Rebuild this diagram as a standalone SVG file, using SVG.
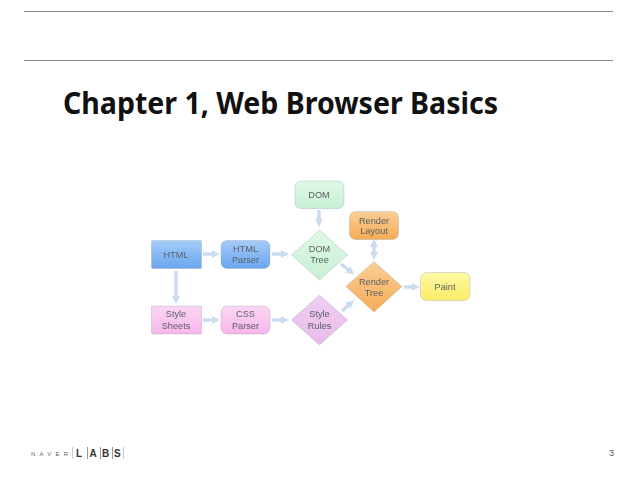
<svg xmlns="http://www.w3.org/2000/svg" width="638" height="479" viewBox="0 0 638 479">
<defs>
<linearGradient id="gb" x1="0" y1="0" x2="0" y2="1"><stop offset="0" stop-color="#a4cbf8"/><stop offset="1" stop-color="#6aa6f0"/></linearGradient>
<linearGradient id="gp" x1="0" y1="0" x2="0" y2="1"><stop offset="0" stop-color="#fcd6f4"/><stop offset="1" stop-color="#f8b6ea"/></linearGradient>
<linearGradient id="gg" x1="0" y1="0" x2="0" y2="1"><stop offset="0" stop-color="#dff8e6"/><stop offset="1" stop-color="#c8f0d4"/></linearGradient>
<linearGradient id="go" x1="0" y1="0" x2="0" y2="1"><stop offset="0" stop-color="#fbcf96"/><stop offset="1" stop-color="#f6ab55"/></linearGradient>
<linearGradient id="gy" x1="0" y1="0" x2="0" y2="1"><stop offset="0" stop-color="#fdf8a6"/><stop offset="1" stop-color="#fbec66"/></linearGradient>
<linearGradient id="gl" x1="0" y1="0" x2="0" y2="1"><stop offset="0" stop-color="#efcdf1"/><stop offset="1" stop-color="#e9bceb"/></linearGradient>
<filter id="soft" x="-10%" y="-10%" width="120%" height="120%"><feGaussianBlur stdDeviation="0.75"/></filter>
<marker id="ah" viewBox="0 0 10 10" refX="5" refY="5" markerWidth="2.300" markerHeight="2.600" orient="auto-start-reverse"><path d="M0 0 L10 5 L0 10 Z" fill="#cbdcf0"/></marker>
</defs>
<style>
.rule{stroke:#8a8a8a;stroke-width:1;fill:none}
.lbl{font-family:"Liberation Sans",Arial,sans-serif;font-size:9.2px;fill:#5a5f66;text-anchor:middle}
.c{stroke:#cbdcf0;stroke-width:3.500;fill:none;marker-end:url(#ah)}
.b{stroke:#cbdcf0;stroke-width:3.500;fill:none;marker-end:url(#ah);marker-start:url(#ah)}
.s{stroke-width:1;stroke-opacity:.3;stroke:#8899aa}
.ft{font-family:"Liberation Sans",Arial,sans-serif;fill:#333}
</style>
<line class="rule" x1="24" y1="11.5" x2="613" y2="11.5"/>
<line class="rule" x1="24" y1="60.5" x2="613" y2="60.5"/>
<text x="63" y="114" font-family="'Noto Sans','Open Sans',sans-serif" font-weight="700" font-size="31" textLength="435" lengthAdjust="spacingAndGlyphs" fill="#111">Chapter 1, Web Browser Basics</text>
<g filter="url(#soft)">
<g id="connectors">
<path class="c" d="M203 254H216"/>
<path class="c" d="M272 254H285"/>
<path class="c" d="M319 210V223"/>
<path class="c" d="M176 271V300"/>
<path class="c" d="M203 320H216"/>
<path class="c" d="M272 320H285"/>
<path class="c" d="M341 264L351 272"/>
<path class="c" d="M342 311L351 303"/>
<path class="b" d="M374 243V256"/>
<path class="c" d="M404 287H416"/>
</g>
<g id="html"><rect x="151.500" y="240.500" width="50" height="28" rx="1" fill="url(#gb)" class="s"/><text class="lbl" x="176" y="258">HTML</text></g>
<g id="html-parser"><rect x="221" y="240.500" width="49" height="28" rx="6" fill="url(#gb)" class="s"/><text class="lbl" x="245.500" y="252">HTML</text><text class="lbl" x="245.500" y="263">Parser</text></g>
<g id="dom"><rect x="295" y="181" width="49" height="27.500" rx="6" fill="url(#gg)" class="s"/><text class="lbl" x="319" y="198">DOM</text></g>
<g id="dom-tree"><path d="M319.500 230L347.500 255L319.500 280L291.500 255Z" fill="url(#gg)" class="s"/><text class="lbl" x="319.500" y="252">DOM</text><text class="lbl" x="319.500" y="263">Tree</text></g>
<g id="render-layout"><rect x="349.500" y="211.500" width="49" height="28" rx="6" fill="url(#go)" class="s"/><text class="lbl" x="374" y="224">Render</text><text class="lbl" x="374" y="234">Layout</text></g>
<g id="render-tree"><path d="M374 261.500L402 286.500L374 312L346 286.500Z" fill="url(#go)" class="s"/><text class="lbl" x="374" y="285">Render</text><text class="lbl" x="374" y="296">Tree</text></g>
<g id="paint"><rect x="420.500" y="272.500" width="49.500" height="28" rx="6" fill="url(#gy)" class="s"/><text class="lbl" x="445" y="290">Paint</text></g>
<g id="style-sheets"><rect x="151.500" y="306" width="50" height="28" rx="1" fill="url(#gp)" class="s"/><text class="lbl" x="176" y="317">Style</text><text class="lbl" x="176" y="329">Sheets</text></g>
<g id="css-parser"><rect x="221" y="306" width="49" height="28" rx="6" fill="url(#gp)" class="s"/><text class="lbl" x="245.500" y="317">CSS</text><text class="lbl" x="245.500" y="329">Parser</text></g>
<g id="style-rules"><path d="M319.500 295L347.500 320L319.500 345L291.500 320Z" fill="url(#gl)" class="s"/><text class="lbl" x="319.500" y="317">Style</text><text class="lbl" x="319.500" y="329">Rules</text></g>
</g>
<g id="footer">
<text class="ft" x="31" y="456" font-size="6" letter-spacing="4.200" fill-opacity=".8">NAVER</text>
<line x1="72.500" y1="447" x2="72.500" y2="459" stroke="#ccc"/>
<text class="ft" x="76" y="456.500" font-size="10" font-weight="700">L</text>
<line x1="87.500" y1="447" x2="87.500" y2="459" stroke="#999"/>
<text class="ft" x="89.500" y="456.500" font-size="10" font-weight="700">A</text>
<line x1="100.500" y1="447" x2="100.500" y2="459" stroke="#999"/>
<text class="ft" x="102" y="456.500" font-size="10" font-weight="700">B</text>
<line x1="112.500" y1="447" x2="112.500" y2="459" stroke="#999"/>
<text class="ft" x="114" y="456.500" font-size="10" font-weight="700">S</text>
<line x1="123.500" y1="447" x2="123.500" y2="459" stroke="#ccc"/>
</g>
<text x="609" y="456" font-family="'Liberation Sans',sans-serif" font-size="9" fill="#555">3</text>
</svg>
